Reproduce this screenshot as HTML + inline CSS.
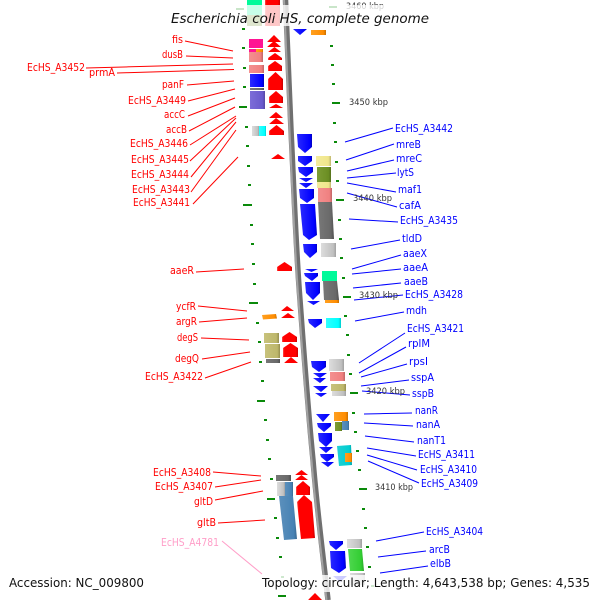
<!DOCTYPE html>
<html><head><meta charset="utf-8"><style>
html,body{margin:0;padding:0;background:#fff}
svg{display:block;filter:blur(.3px)}
text{font-family:"DejaVu Sans","Liberation Sans",sans-serif;font-size:10.5px}
</style></head><body>
<svg width="600" height="600" viewBox="0 0 600 600" xmlns="http://www.w3.org/2000/svg">
<defs>
<linearGradient id="r" x1="0" x2="1" y1="0" y2="0"><stop offset="0" stop-color="#ff5050"/><stop offset=".1" stop-color="#f00"/><stop offset=".85" stop-color="#f00"/><stop offset="1" stop-color="#c80000"/></linearGradient>
<linearGradient id="b" x1="0" x2="1" y1="0" y2="0"><stop offset="0" stop-color="#2a2aff"/><stop offset=".85" stop-color="#00f"/><stop offset="1" stop-color="#0000c0"/></linearGradient>
<linearGradient id="gy" x1="0" x2="1" y1="0" y2="0"><stop offset="0" stop-color="#787878"/><stop offset=".8" stop-color="#696969"/><stop offset="1" stop-color="#505050"/></linearGradient>
<linearGradient id="lg" x1="0" x2="1" y1="0" y2="0"><stop offset="0" stop-color="#ddd"/><stop offset=".82" stop-color="#c0c0c0"/><stop offset="1" stop-color="#a0a0a0"/></linearGradient>
<linearGradient id="sb" x1="0" x2="1" y1="0" y2="0"><stop offset="0" stop-color="#5c90bc"/><stop offset=".82" stop-color="#4682b4"/><stop offset="1" stop-color="#386890"/></linearGradient>
<linearGradient id="kh" x1="0" x2="1" y1="0" y2="0"><stop offset="0" stop-color="#c8c27c"/><stop offset=".82" stop-color="#bdb76b"/><stop offset="1" stop-color="#968f50"/></linearGradient>
<linearGradient id="ye" x1="0" x2="1" y1="0" y2="0"><stop offset="0" stop-color="#f4ec9c"/><stop offset=".82" stop-color="#f0e68c"/><stop offset="1" stop-color="#c0b870"/></linearGradient>
<linearGradient id="ol" x1="0" x2="1" y1="0" y2="0"><stop offset="0" stop-color="#7c9c34"/><stop offset=".82" stop-color="#6b8e23"/><stop offset="1" stop-color="#55711c"/></linearGradient>
<linearGradient id="pk" x1="0" x2="1" y1="0" y2="0"><stop offset="0" stop-color="#f49090"/><stop offset=".82" stop-color="#f08080"/><stop offset="1" stop-color="#c06666"/></linearGradient>
<linearGradient id="or" x1="0" x2="1" y1="0" y2="0"><stop offset="0" stop-color="#ffa020"/><stop offset=".82" stop-color="#ff8c00"/><stop offset="1" stop-color="#c87000"/></linearGradient>
<linearGradient id="cy" x1="0" x2="1" y1="0" y2="0"><stop offset="0" stop-color="#30ffff"/><stop offset=".82" stop-color="#0ff"/><stop offset="1" stop-color="#00cccc"/></linearGradient>
<linearGradient id="dt" x1="0" x2="1" y1="0" y2="0"><stop offset="0" stop-color="#20d0d4"/><stop offset=".82" stop-color="#00ced1"/><stop offset="1" stop-color="#00a0a4"/></linearGradient>
<linearGradient id="lm" x1="0" x2="1" y1="0" y2="0"><stop offset="0" stop-color="#50d850"/><stop offset=".82" stop-color="#32cd32"/><stop offset="1" stop-color="#28a428"/></linearGradient>
<linearGradient id="sl" x1="0" x2="1" y1="0" y2="0"><stop offset="0" stop-color="#7c6cd8"/><stop offset=".82" stop-color="#6a5acd"/><stop offset="1" stop-color="#5548a4"/></linearGradient>
</defs>
<rect width="600" height="600" fill="#fff"/>

<!-- backbone -->
<path d="M285.5,0 C287,45 289,90 291,130 C294,190 296,250 300,300 C304,355 308,410 313,460 C317,510 323,555 328,600" fill="none" stroke="#707070" stroke-width="5.5"/>
<path d="M284,0 C285.5,45 287.5,90 289.5,130 C292.5,190 294.5,250 298.5,300 C302.5,355 306.5,410 311.5,460 C315.5,510 321.5,555 326.5,600" fill="none" stroke="#a2a2a2" stroke-width="2"/>

<!-- ticks -->
<g fill="#0a8a0a">
<rect x="242" y="28" width="3" height="2"/>
<rect x="242" y="47" width="3" height="2"/><rect x="243" y="67" width="3" height="2"/><rect x="243" y="86" width="3" height="2"/>
<rect x="239" y="106" width="8" height="2"/><rect x="245" y="126" width="3" height="2"/><rect x="246" y="145" width="3" height="2"/>
<rect x="247" y="165" width="3" height="2"/><rect x="248" y="184" width="3" height="2"/><rect x="243" y="204" width="9" height="2"/>
<rect x="250" y="224" width="3" height="2"/><rect x="251" y="243" width="3" height="2"/><rect x="252" y="263" width="3" height="2"/>
<rect x="253" y="283" width="3" height="2"/><rect x="249" y="302" width="9" height="2"/><rect x="256" y="322" width="3" height="2"/>
<rect x="258" y="341" width="3" height="2"/><rect x="259" y="361" width="3" height="2"/><rect x="261" y="380" width="3" height="2"/>
<rect x="257" y="400" width="8" height="2"/><rect x="264" y="419" width="3" height="2"/><rect x="266" y="439" width="3" height="2"/>
<rect x="268" y="458" width="3" height="2"/><rect x="270" y="478" width="3" height="2"/><rect x="267" y="498" width="8" height="2"/>
<rect x="274" y="517" width="3" height="2"/><rect x="276" y="537" width="3" height="2"/><rect x="279" y="556" width="3" height="2"/>
<rect x="281" y="576" width="3" height="2"/><rect x="278" y="595" width="8" height="2"/>
<rect x="330" y="45" width="3" height="2"/><rect x="331" y="64" width="3" height="2"/><rect x="332" y="83" width="3" height="2"/>
<rect x="332" y="102" width="8" height="2"/><rect x="333" y="122" width="3" height="2"/><rect x="334" y="141" width="3" height="2"/>
<rect x="335" y="161" width="3" height="2"/><rect x="336" y="180" width="3" height="2"/><rect x="336" y="199" width="8" height="2"/>
<rect x="338" y="219" width="3" height="2"/><rect x="339" y="238" width="3" height="2"/><rect x="340" y="257" width="3" height="2"/>
<rect x="342" y="277" width="3" height="2"/><rect x="343" y="296" width="8" height="2"/><rect x="344" y="315" width="3" height="2"/>
<rect x="346" y="334" width="3" height="2"/><rect x="347" y="354" width="3" height="2"/><rect x="349" y="373" width="3" height="2"/>
<rect x="350" y="392" width="8" height="2"/><rect x="352" y="412" width="3" height="2"/><rect x="354" y="431" width="3" height="2"/>
<rect x="356" y="450" width="3" height="2"/><rect x="358" y="469" width="3" height="2"/><rect x="359" y="488" width="8" height="2"/>
<rect x="362" y="508" width="3" height="2"/><rect x="364" y="527" width="3" height="2"/><rect x="366" y="546" width="3" height="2"/>
<rect x="368" y="566" width="3" height="2"/><rect x="371" y="585" width="3" height="2"/>
<rect x="236" y="8" width="8" height="2"/><rect x="329" y="6" width="8" height="2"/>
</g>

<!-- top genes -->
<rect x="247" y="0" width="15" height="15" fill="#00fa9a"/><rect x="247" y="15" width="15" height="11" fill="#6b8e23"/>
<rect x="265" y="0" width="15" height="26" fill="url(#r)"/>

<!-- left outer track -->
<rect x="249" y="39" width="14" height="9" fill="#ff1493"/>
<rect x="249" y="49" width="7" height="3" fill="#ff1493"/><rect x="256" y="49" width="7" height="3" fill="url(#or)"/>
<rect x="249" y="52" width="14" height="10" fill="url(#pk)"/>
<rect x="249" y="65" width="15" height="8" fill="url(#pk)"/>
<rect x="250" y="74" width="14" height="13" fill="url(#b)"/>
<rect x="250" y="88" width="14" height="2" fill="url(#gy)"/>
<rect x="250" y="91" width="15" height="18" fill="url(#sl)"/>
<rect x="252" y="126" width="7" height="10" fill="url(#lg)"/><rect x="259" y="126" width="7" height="10" fill="url(#cy)"/>
<polygon points="262,315 276,314 277,318.5 263,319.5" fill="url(#or)"/>
<rect x="264" y="333" width="15" height="10" fill="url(#kh)"/>
<rect x="265" y="344" width="15" height="14" fill="url(#kh)"/>
<rect x="266" y="359" width="14" height="4" fill="url(#gy)"/>
<rect x="276" y="475" width="15" height="6" fill="url(#gy)"/>
<rect x="277" y="482" width="8" height="14" fill="url(#lg)"/><rect x="285" y="482" width="8" height="14" fill="url(#sb)"/>
<polygon points="279,496 293,496 297,539 284,540" fill="url(#sb)"/>

<!-- red arrows -->
<g fill="url(#r)">
<polygon points="274,35 281,42 267,42"/><polygon points="274,41 281,47 267,47"/>
<polygon points="274.5,47 281,52 268,52"/><polygon points="275,53 282,58 282,60 268,60 268,58"/>
<polygon points="275,61 282,66 282,71 268,71 268,66"/>
<polygon points="275.5,72 283,79 283,90 268,90 268,79"/>
<polygon points="276,91 283,97 283,103 269,103 269,97"/>
<polygon points="276,104 283,108 269,108"/>
<polygon points="276,112 283,118 269,118"/><polygon points="276,118 284,124 269,124"/>
<polygon points="276.5,125 284,131 284,135 269,135 269,131"/>
<polygon points="278,154 285,159 271,159"/>
<polygon points="284.5,262 292,267 292,271 277,271 277,267"/>
<polygon points="287,306 294,311 281,311"/><polygon points="288,313 295,318 281,318"/>
<polygon points="289.5,332 297,337 297,342 282,342 282,337"/>
<polygon points="290.5,343 298,348 298,357 283,357 283,348"/>
<polygon points="291,357 298,363 284,363"/>
<polygon points="301.5,470 308,475 295,475"/><polygon points="301.5,475 308,480 295,480"/>
<polygon points="303,481 310,487 310,495 296,495 296,487"/>
<polygon points="304,495 312,502 315,538 301,539 297,502"/>
<polygon points="315,593 322,600 308,600"/>
</g>

<!-- blue arrows -->
<g fill="url(#b)">
<polygon points="293,29 307,29 300,35"/>
<polygon points="297,134 312,134 312,147 305,153 298,147"/>
<polygon points="298,156 312,156 312,161 305,166 298,161"/>
<polygon points="298,167 313,167 313,172 306,177 299,172"/>
<polygon points="299,178 313,178 306,182"/>
<polygon points="299,183 313,183 306,188"/>
<polygon points="299,189 314,189 314,198 307,203 300,198"/>
<polygon points="300,204 315,204 317,235 309,240 303,235"/>
<polygon points="303,244 317,244 317,252 310,258 304,252"/>
<polygon points="305,269 318,269 311.5,272"/>
<polygon points="304,273 318,273 318,276 312,281 305,276"/>
<polygon points="305,282 320,282 320,293 313,300 306,293"/>
<polygon points="307,301 320,301 313.5,305"/>
<polygon points="308,319 322,319 322,323 315,328 309,323"/>
<polygon points="311,361 326,361 326,367 319,372 312,367"/>
<polygon points="313,373 327,373 320,378"/>
<polygon points="313,378 326,378 320,383"/>
<polygon points="313,386 328,386 321,392"/>
<polygon points="315,393 327,393 321,397"/>
<polygon points="316,414 330,414 323,422"/>
<polygon points="317,423 331,423 331,426 324,432 318,427"/>
<polygon points="318,433 332,433 332,441 326,447 319,441"/>
<polygon points="319,447 333,447 326,453"/>
<polygon points="320,454 334,454 334,457 327,462 321,457"/>
<polygon points="321,462 334,462 328,467"/>
<polygon points="329,541 343,541 343,544 336,550 330,545"/>
<polygon points="330,551 345,551 346,568 339,573 331,568"/>
<polygon points="333,576 347,576 340,582"/>
</g>

<!-- right track -->
<rect x="311" y="30" width="15" height="5" fill="url(#or)"/>
<rect x="316" y="156" width="15" height="10" fill="url(#ye)"/>
<rect x="317" y="167" width="14" height="15" fill="url(#ol)"/>
<rect x="317" y="182" width="14" height="6" fill="url(#ye)"/>
<rect x="318" y="188" width="14" height="14" fill="url(#pk)"/>
<polygon points="318,202 332,202 334,239 320,239" fill="url(#gy)"/>
<rect x="321" y="243" width="15" height="14" fill="url(#lg)"/>
<rect x="322" y="271" width="15" height="10" fill="#00fa9a"/>
<polygon points="323,281 337,281 339,300 324,300" fill="url(#gy)"/>
<rect x="325" y="300" width="14" height="3" fill="url(#or)"/>
<rect x="326" y="318" width="15" height="10" fill="url(#cy)"/>
<rect x="329" y="359" width="15" height="12" fill="url(#lg)"/>
<rect x="330" y="372" width="15" height="9" fill="url(#pk)"/>
<rect x="331" y="384" width="15" height="7" fill="url(#kh)"/>
<rect x="332" y="391" width="14" height="5" fill="url(#lg)"/>
<rect x="334" y="412" width="14" height="9" fill="url(#or)"/>
<rect x="335" y="422" width="7" height="9" fill="url(#ol)"/>
<rect x="342" y="421" width="7" height="9" fill="url(#sb)"/>
<polygon points="337,446 351,445 352,465 339,466" fill="url(#dt)"/>
<rect x="345" y="453" width="7" height="9" fill="url(#or)"/>
<rect x="347" y="539" width="15" height="9" fill="url(#lg)"/>
<polygon points="348,549 362,549 364,571 350,571" fill="url(#lm)"/>
<rect x="350" y="573" width="15" height="12" fill="url(#lg)"/>

<!-- red connector lines -->
<g stroke="#f00" stroke-width="1" fill="none">
<line x1="185" y1="41" x2="233" y2="51"/><line x1="186" y1="56" x2="233" y2="58"/>
<line x1="86" y1="68" x2="233" y2="64"/><line x1="117" y1="73" x2="234" y2="69.5"/>
<line x1="187" y1="85" x2="234" y2="81"/><line x1="188" y1="101" x2="235" y2="89"/>
<line x1="188" y1="116" x2="235" y2="98"/><line x1="189" y1="131" x2="235" y2="107"/>
<line x1="190" y1="145" x2="236" y2="116"/><line x1="190" y1="161" x2="236" y2="118"/>
<line x1="191" y1="177" x2="236" y2="122"/><line x1="191" y1="192" x2="236" y2="130"/>
<line x1="193" y1="204" x2="238" y2="157"/>
<line x1="196" y1="272" x2="244" y2="269"/><line x1="198" y1="306" x2="247" y2="311"/>
<line x1="199" y1="322" x2="247" y2="318"/><line x1="201" y1="338" x2="249" y2="340"/>
<line x1="202" y1="359" x2="250" y2="352"/><line x1="205" y1="378" x2="251" y2="362"/>
<line x1="213" y1="472" x2="261" y2="476"/><line x1="215" y1="487" x2="261" y2="480"/>
<line x1="215" y1="500" x2="263" y2="491"/><line x1="218" y1="523" x2="265" y2="520"/>
</g>
<line x1="222" y1="541" x2="262" y2="574" stroke="#ff9ec8" stroke-width="1"/>

<!-- blue connector lines -->
<g stroke="#00f" stroke-width="1" fill="none">
<line x1="345" y1="142" x2="393" y2="128"/><line x1="346" y1="160" x2="394" y2="144"/>
<line x1="347" y1="171" x2="394" y2="160"/><line x1="347" y1="178" x2="396" y2="173"/>
<line x1="347" y1="183" x2="396" y2="192"/><line x1="347" y1="193" x2="397" y2="207"/>
<line x1="349" y1="219" x2="398" y2="222"/><line x1="351" y1="249" x2="400" y2="240"/>
<line x1="352" y1="269" x2="401" y2="255"/><line x1="352" y1="274" x2="401" y2="269"/>
<line x1="353" y1="288" x2="401" y2="283"/><line x1="354" y1="300" x2="403" y2="295"/>
<line x1="355" y1="321" x2="404" y2="312"/><line x1="359" y1="363" x2="405" y2="333"/>
<line x1="359" y1="373" x2="406" y2="347"/><line x1="361" y1="377" x2="407" y2="364"/>
<line x1="361" y1="386" x2="409" y2="380"/><line x1="362" y1="391" x2="410" y2="395"/>
<line x1="364" y1="414" x2="412" y2="413"/><line x1="364" y1="423" x2="413" y2="426"/>
<line x1="365" y1="436" x2="414" y2="442"/><line x1="367" y1="448" x2="416" y2="456"/>
<line x1="367" y1="455" x2="417" y2="470"/><line x1="368" y1="461" x2="419" y2="483"/>
<line x1="376" y1="541" x2="424" y2="532"/><line x1="378" y1="557" x2="426" y2="551"/>
<line x1="380" y1="573" x2="428" y2="566"/>
</g>

<!-- kbp labels -->
<g fill="#333">
<text x="349" y="105" textLength="39" lengthAdjust="spacingAndGlyphs" style="font-size:8.5px">3450 kbp</text>
<text x="353" y="201" textLength="39" lengthAdjust="spacingAndGlyphs" style="font-size:8.5px">3440 kbp</text>
<text x="359" y="298" textLength="39" lengthAdjust="spacingAndGlyphs" style="font-size:8.5px">3430 kbp</text>
<text x="366" y="394" textLength="39" lengthAdjust="spacingAndGlyphs" style="font-size:8.5px">3420 kbp</text>
<text x="375" y="490" textLength="38" lengthAdjust="spacingAndGlyphs" style="font-size:8.5px">3410 kbp</text>
<text x="346" y="9" textLength="38" lengthAdjust="spacingAndGlyphs" style="font-size:8.5px">3460 kbp</text>
</g>

<!-- overlays -->
<rect x="0" y="5" width="600" height="21" fill="#fff" opacity=".78"/>
<rect x="0" y="575" width="145" height="17" fill="#fff" opacity=".85"/>
<rect x="260" y="575" width="335" height="17" fill="#fff" opacity=".8"/>

<!-- red labels -->
<g fill="#f00">
<text x="172" y="43" textLength="11" lengthAdjust="spacingAndGlyphs">fis</text>
<text x="162" y="58" textLength="21" lengthAdjust="spacingAndGlyphs">dusB</text>
<text x="27" y="71" textLength="58" lengthAdjust="spacingAndGlyphs">EcHS_A3452</text>
<text x="89" y="76" textLength="26" lengthAdjust="spacingAndGlyphs">prmA</text>
<text x="162" y="88" textLength="22" lengthAdjust="spacingAndGlyphs">panF</text>
<text x="128" y="104" textLength="58" lengthAdjust="spacingAndGlyphs">EcHS_A3449</text>
<text x="164" y="118" textLength="21" lengthAdjust="spacingAndGlyphs">accC</text>
<text x="166" y="133" textLength="21" lengthAdjust="spacingAndGlyphs">accB</text>
<text x="130" y="147" textLength="58" lengthAdjust="spacingAndGlyphs">EcHS_A3446</text>
<text x="131" y="163" textLength="58" lengthAdjust="spacingAndGlyphs">EcHS_A3445</text>
<text x="131" y="178" textLength="58" lengthAdjust="spacingAndGlyphs">EcHS_A3444</text>
<text x="132" y="193" textLength="58" lengthAdjust="spacingAndGlyphs">EcHS_A3443</text>
<text x="133" y="206" textLength="57" lengthAdjust="spacingAndGlyphs">EcHS_A3441</text>
<text x="170" y="274" textLength="24" lengthAdjust="spacingAndGlyphs">aaeR</text>
<text x="176" y="310" textLength="20" lengthAdjust="spacingAndGlyphs">ycfR</text>
<text x="176" y="325" textLength="21" lengthAdjust="spacingAndGlyphs">argR</text>
<text x="177" y="341" textLength="21" lengthAdjust="spacingAndGlyphs">degS</text>
<text x="175" y="362" textLength="24" lengthAdjust="spacingAndGlyphs">degQ</text>
<text x="145" y="380" textLength="58" lengthAdjust="spacingAndGlyphs">EcHS_A3422</text>
<text x="153" y="476" textLength="58" lengthAdjust="spacingAndGlyphs">EcHS_A3408</text>
<text x="155" y="490" textLength="58" lengthAdjust="spacingAndGlyphs">EcHS_A3407</text>
<text x="194" y="505" textLength="19" lengthAdjust="spacingAndGlyphs">gltD</text>
<text x="197" y="526" textLength="19" lengthAdjust="spacingAndGlyphs">gltB</text>
</g>
<text x="161" y="546" textLength="58" lengthAdjust="spacingAndGlyphs" fill="#ff9ec8">EcHS_A4781</text>

<!-- blue labels -->
<g fill="#00f">
<text x="395" y="132" textLength="58" lengthAdjust="spacingAndGlyphs">EcHS_A3442</text>
<text x="396" y="148" textLength="25" lengthAdjust="spacingAndGlyphs">mreB</text>
<text x="396" y="162" textLength="26" lengthAdjust="spacingAndGlyphs">mreC</text>
<text x="397" y="176" textLength="17" lengthAdjust="spacingAndGlyphs">lytS</text>
<text x="398" y="193" textLength="24" lengthAdjust="spacingAndGlyphs">maf1</text>
<text x="399" y="209" textLength="22" lengthAdjust="spacingAndGlyphs">cafA</text>
<text x="400" y="224" textLength="58" lengthAdjust="spacingAndGlyphs">EcHS_A3435</text>
<text x="402" y="242" textLength="20" lengthAdjust="spacingAndGlyphs">tldD</text>
<text x="403" y="257" textLength="24" lengthAdjust="spacingAndGlyphs">aaeX</text>
<text x="403" y="271" textLength="25" lengthAdjust="spacingAndGlyphs">aaeA</text>
<text x="404" y="285" textLength="24" lengthAdjust="spacingAndGlyphs">aaeB</text>
<text x="405" y="298" textLength="58" lengthAdjust="spacingAndGlyphs">EcHS_A3428</text>
<text x="406" y="314" textLength="21" lengthAdjust="spacingAndGlyphs">mdh</text>
<text x="407" y="332" textLength="57" lengthAdjust="spacingAndGlyphs">EcHS_A3421</text>
<text x="408" y="347" textLength="22" lengthAdjust="spacingAndGlyphs">rplM</text>
<text x="409" y="365" textLength="19" lengthAdjust="spacingAndGlyphs">rpsI</text>
<text x="411" y="381" textLength="23" lengthAdjust="spacingAndGlyphs">sspA</text>
<text x="412" y="397" textLength="22" lengthAdjust="spacingAndGlyphs">sspB</text>
<text x="415" y="414" textLength="23" lengthAdjust="spacingAndGlyphs">nanR</text>
<text x="416" y="428" textLength="24" lengthAdjust="spacingAndGlyphs">nanA</text>
<text x="417" y="444" textLength="29" lengthAdjust="spacingAndGlyphs">nanT1</text>
<text x="418" y="458" textLength="57" lengthAdjust="spacingAndGlyphs">EcHS_A3411</text>
<text x="420" y="473" textLength="57" lengthAdjust="spacingAndGlyphs">EcHS_A3410</text>
<text x="421" y="487" textLength="57" lengthAdjust="spacingAndGlyphs">EcHS_A3409</text>
<text x="426" y="535" textLength="57" lengthAdjust="spacingAndGlyphs">EcHS_A3404</text>
<text x="429" y="553" textLength="21" lengthAdjust="spacingAndGlyphs">arcB</text>
<text x="430" y="567" textLength="21" lengthAdjust="spacingAndGlyphs">elbB</text>
</g>

<!-- title and footer -->
<text x="171" y="23" textLength="258" lengthAdjust="spacingAndGlyphs" fill="#111" style="font-size:13.5px;font-style:italic">Escherichia coli HS, complete genome</text>
<text x="9" y="587" textLength="135" lengthAdjust="spacingAndGlyphs" fill="#111" style="font-size:12.5px">Accession: NC_009800</text>
<text x="262" y="587" textLength="328" lengthAdjust="spacingAndGlyphs" fill="#111" style="font-size:12.5px">Topology: circular; Length: 4,643,538 bp; Genes: 4,535</text>
</svg>
</body></html>
